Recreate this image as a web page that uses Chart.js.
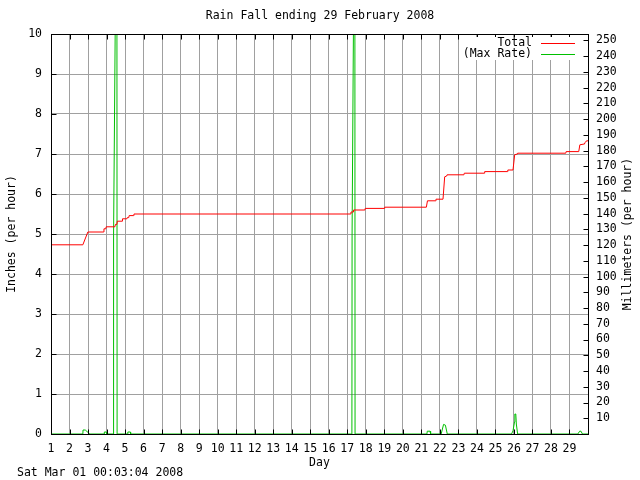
<!DOCTYPE html>
<html>
<head>
<meta charset="utf-8">
<script src="https://cdn.jsdelivr.net/npm/chart.js@4"></script>
<style>
html,body{margin:0;padding:0;background:#fff;}
#wrap{width:640px;height:480px;}
</style>
</head>
<body>
<div id="wrap"><canvas id="c" width="640" height="480"></canvas></div>
<script>
// ---- text ----
const titleText = 'Rain Fall ending 29 February 2008';
const footerText = 'Sat Mar 01 00:03:04 2008';
const xTitle = 'Day';
const yTitle = 'Inches (per hour)';
const y2Title = 'Millimeters (per hour)';
const legendLabels = ['Total', '(Max Rate)'];

// ---- tick labels ----
const dayTicks = [1,2,3,4,5,6,7,8,9,10,11,12,13,14,15,16,17,18,19,20,21,22,23,24,25,26,27,28,29];
const inchTicks = [0,1,2,3,4,5,6,7,8,9,10];
const mmTicks = [10,20,30,40,50,60,70,80,90,100,110,120,130,140,150,160,170,180,190,200,210,220,230,240,250];

// ---- series: cumulative total (inches) ----
const totalDays = [1.0,2.72,2.99,3.84,3.86,3.96,3.98,4.45,4.48,4.56,4.58,4.85,4.86,5.1,5.12,5.2,5.22,5.45,5.48,
  17.18,17.2,17.32,17.34,17.95,17.97,19.0,19.02,21.27,21.33,21.77,21.79,22.17,22.26,22.37,22.39,23.3,23.32,
  24.4,24.42,25.65,25.67,25.95,26.04,26.18,26.2,28.8,28.82,29.5,29.56,29.8,29.82,29.88,29.92,30.0];
const totalInches = [4.73,4.73,5.05,5.05,5.13,5.13,5.18,5.18,5.24,5.24,5.32,5.32,5.38,5.38,5.41,5.41,5.46,5.46,5.50,
  5.50,5.55,5.55,5.60,5.60,5.64,5.64,5.67,5.67,5.83,5.83,5.87,5.87,6.43,6.45,6.48,6.48,6.52,
  6.52,6.56,6.56,6.60,6.60,6.98,7.00,7.02,7.02,7.06,7.06,7.23,7.25,7.28,7.30,7.33,7.33];

// ---- series: max rate (inches per hour) ----
const rateDays = [1.0,2.72,2.73,2.85,3.1,3.87,3.88,3.99,4.0,4.37,4.38,4.5,4.56,4.57,5.14,5.15,5.29,5.3,
  17.25,17.26,17.36,17.41,17.42,21.3,21.32,21.47,21.5,22.07,22.2,22.3,22.4,
  25.87,25.95,26.03,26.05,26.1,26.13,26.2,29.45,29.55,29.62,29.7,30.0];
const rateInches = [0,0,0.1,0.1,0,0,0.05,0.05,0,0,5,12,12,0,0,0.05,0.05,0,
  0,5,12,12,0,0,0.07,0.07,0,0,0.24,0.22,0,
  0,0.08,0.3,0.5,0.5,0.25,0,0,0.07,0.07,0,0];

const FONT = 'DejaVu Sans Mono';
const FS = 11.5;
const GRID = '#a0a0a0';
const RED = '#ff0000';
const GREEN = '#00c000';

const toXY = (xs, ys) => xs.map((x, i) => ({x: x, y: ys[i]}));

const decor = {
  id: 'decor',
  afterDraw(chart) {
    const ctx = chart.ctx;
    const a = chart.chartArea;
    const xs = chart.scales.x, ys = chart.scales.y, y2 = chart.scales.y2;
    const L = Math.round(a.left) + 0.5, R = Math.round(a.right) + 0.5;
    const T = Math.round(a.top) + 0.5, B = Math.round(a.bottom) + 0.5;
    ctx.save();
    ctx.strokeStyle = '#000';
    ctx.lineWidth = 1;
    ctx.beginPath();
    // inward tick marks
    dayTicks.forEach(d => {
      const px = Math.round(xs.getPixelForValue(d)) + 0.5;
      ctx.moveTo(px, B); ctx.lineTo(px, B - 5);
      ctx.moveTo(px, T); ctx.lineTo(px, T + 5);
    });
    inchTicks.forEach(v => {
      const py = Math.round(ys.getPixelForValue(v)) + 0.5;
      ctx.moveTo(L, py); ctx.lineTo(L + 5, py);
    });
    mmTicks.forEach(v => {
      const py = Math.round(y2.getPixelForValue(v)) + 0.5;
      ctx.moveTo(R, py); ctx.lineTo(R - 5, py);
    });
    ctx.stroke();
    ctx.strokeRect(L, T, R - L, B - T);

    // legend (opaque key)
    ctx.fillStyle = '#fff';
    ctx.fillRect(462, 37, 118, 23);
    ctx.font = FS + 'px "' + FONT + '"';
    ctx.textAlign = 'right';
    ctx.textBaseline = 'middle';
    const rows = [[legendLabels[0], RED, 43], [legendLabels[1], GREEN, 54]];
    rows.forEach(r => {
      ctx.fillStyle = '#000';
      ctx.fillText(r[0], 532, r[2]);
      ctx.fillStyle = r[1];
      ctx.fillRect(541, r[2], 34, 1);
    });

    // footer timestamp
    ctx.fillStyle = '#000';
    ctx.textAlign = 'left';
    ctx.fillText(footerText, 17, 473);

    // right axis title
    ctx.save();
    ctx.translate(628, (a.top + a.bottom) / 2);
    ctx.rotate(-Math.PI / 2);
    ctx.textAlign = 'center';
    ctx.fillText(y2Title, 0, 0);
    ctx.restore();
    ctx.restore();
  }
};

const tickFont = {family: FONT, size: FS};

new Chart(document.getElementById('c'), {
  type: 'line',
  data: {
    datasets: [
      {label: legendLabels[0], data: toXY(totalDays, totalInches), borderColor: RED, borderWidth: 1,
       pointRadius: 0, fill: false, tension: 0, yAxisID: 'y', order: 1},
      {label: legendLabels[1], data: toXY(rateDays, rateInches), borderColor: GREEN, borderWidth: 1,
       pointRadius: 0, fill: false, tension: 0, yAxisID: 'y', order: 2}
    ]
  },
  options: {
    responsive: false,
    animation: false,
    devicePixelRatio: 1,
    parsing: false,
    layout: {padding: 0},
    plugins: {
      legend: {display: false},
      tooltip: {enabled: false},
      title: {display: true, text: titleText, color: '#000',
        font: {family: FONT, size: FS, weight: 'normal', lineHeight: 1.2},
        padding: {top: 9, bottom: 11.2}}
    },
    scales: {
      x: {
        type: 'linear', min: 1, max: 30, position: 'bottom',
        afterBuildTicks: s => { s.ticks = dayTicks.map(v => ({value: v})); },
        afterFit: s => { s.height = 46; },
        grid: {color: GRID, lineWidth: 1, drawTicks: false},
        border: {display: true, color: '#000'},
        ticks: {color: '#000', font: tickFont, padding: 8, autoSkip: false, maxRotation: 0,
          callback: v => String(v)},
        title: {display: true, text: xTitle, color: '#000', font: {family: FONT, size: FS, lineHeight: 1.2},
          padding: {top: 0, bottom: 10}}
      },
      y: {
        type: 'linear', min: 0, max: 10, position: 'left',
        afterBuildTicks: s => { s.ticks = inchTicks.map(v => ({value: v})); },
        afterFit: s => { s.width = 51; },
        grid: {color: GRID, lineWidth: 1, drawTicks: false},
        border: {display: true, color: '#000'},
        ticks: {color: '#000', font: tickFont, padding: 9, autoSkip: false, callback: v => String(v)},
        title: {display: true, text: yTitle, color: '#000', font: {family: FONT, size: FS, lineHeight: 1.2},
          padding: {top: 5, bottom: 0}}
      },
      y2: {
        type: 'linear', min: 0, max: 254, position: 'right',
        afterBuildTicks: s => { s.ticks = mmTicks.map(v => ({value: v})); },
        afterFit: s => { s.width = 52; },
        grid: {drawOnChartArea: false, drawTicks: false},
        border: {display: true, color: '#000'},
        ticks: {color: '#000', font: tickFont, padding: 8, autoSkip: false, callback: v => String(v)}
      }
    }
  },
  plugins: [decor]
});
</script>
</body>
</html>
